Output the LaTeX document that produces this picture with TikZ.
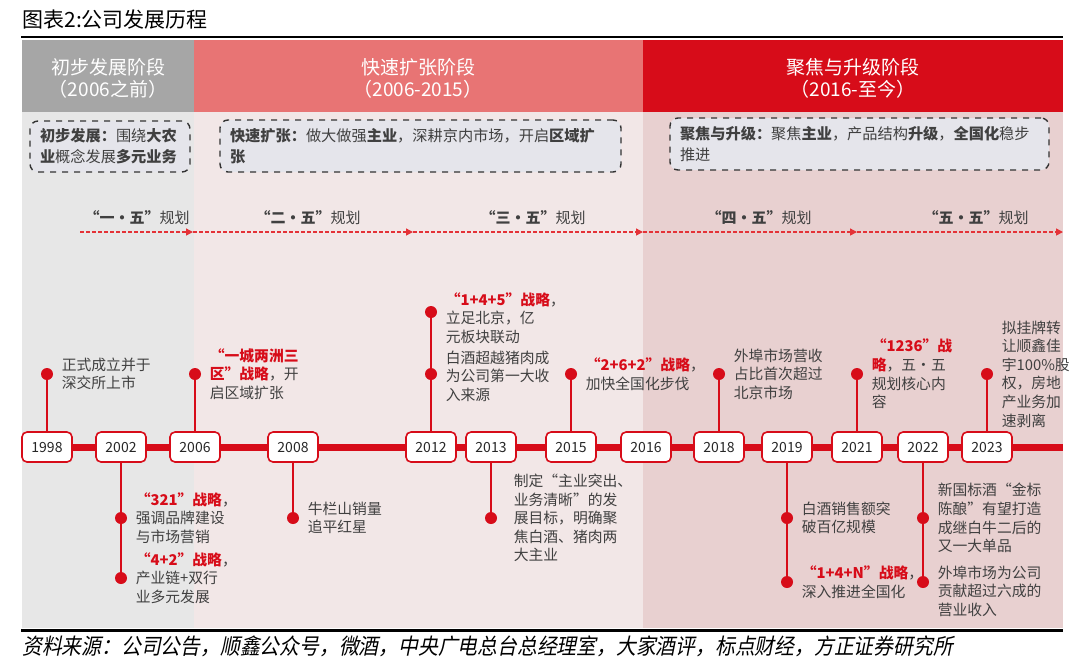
\documentclass[tikz,border=0pt]{standalone}
\usepackage{fontspec}
\setmainfont{Noto Sans CJK SC}
\newfontfamily\srcfont[FakeSlant=0.2,FakeStretch=0.9]{Noto Sans CJK SC}
\usepackage{xcolor}
\usetikzlibrary{arrows.meta,positioning,calc}
\definecolor{headgray}{RGB}{166,166,166}
\definecolor{headsalmon}{RGB}{232,116,116}
\definecolor{headred}{RGB}{215,12,25}
\definecolor{bodygray}{RGB}{231,231,231}
\definecolor{bodypink}{RGB}{242,231,231}
\definecolor{bodyrose}{RGB}{232,208,208}
\definecolor{notefill}{RGB}{229,229,235}
\definecolor{tlred}{RGB}{215,12,25}
\definecolor{planred}{RGB}{228,50,55}
\definecolor{txtgray}{RGB}{64,64,64}
\newcommand{\strat}[1]{\textcolor{tlred}{\textbf{#1}}}

\begin{document}
\begin{tikzpicture}[x=0.5pt, y=-0.5pt, node distance=4pt,
  phasehead/.style={text=white, align=center, font=\fontsize{9.5}{11}\selectfont},
  notebox/.style={draw=black!80, dashed, line width=0.7pt, rounded corners=4pt, fill=notefill, inner xsep=5pt, align=left, text=txtgray, font=\fontsize{7.6}{10.5}\selectfont},
  planlbl/.style={text=txtgray, font=\fontsize{7.5}{9}\selectfont},
  planarrow/.style={draw=planred, line width=0.7pt, dash pattern=on 2pt off 1pt, -{Triangle[length=3.5pt,width=3.5pt]}},
  tlline/.style={draw=tlred, line width=3.5pt},
  yearbox/.style={draw=tlred, fill=white, line width=0.8pt, rounded corners=2.5pt, minimum width=25pt, minimum height=15pt, inner sep=0pt, text=black!85, font=\fontsize{7}{8}\selectfont},
  evdot/.style={circle, fill=tlred, inner sep=0pt, minimum size=6pt},
  stem/.style={draw=tlred, line width=0.8pt},
  evtext/.style={align=left, inner sep=0pt, text=txtgray, font=\fontsize{7.4}{9.3}\selectfont}]
\useasboundingbox (0,0) rectangle (1080,671);

% title and rules
\node[anchor=west, inner sep=0pt, font=\fontsize{10.5}{12}\selectfont] (ttl) at (22,20) {图表2:公司发展历程};
\fill[black] (21,35.5) rectangle (1063,38);
\fill[black] (21,629) rectangle (1063,631.5);
\node[anchor=west, inner sep=0pt, font=\srcfont\fontsize{11}{12}\selectfont] (src) at (22,646) {资料来源：公司公告，顺鑫公众号，微酒，中央广电总台总经理室，大家酒评，标点财经，方正证券研究所};

% phases
\fill[bodygray] (22,40) rectangle (194,628);
\fill[bodypink] (194,40) rectangle (643,628);
\fill[bodyrose] (643,40) rectangle (1063,628);
\fill[headgray] (22,40) rectangle (194,112);
\fill[headsalmon] (194,40) rectangle (643,112);
\fill[headred] (643,40) rectangle (1063,112);
\node[phasehead] (h1) at (108,78) {初步发展阶段\\（2006之前）};
\node[phasehead] (h2) at (418,78) {快速扩张阶段\\（2006-2015）};
\node[phasehead] (h3) at (853,78) {聚焦与升级阶段\\（2016-至今）};

\node[notebox, text width=70pt, minimum height=25.5pt] (n1) at (110,146.5) {\textbf{初步发展：}围绕\textbf{大农}\\\textbf{业}概念发展\textbf{多元业务}};
\node[notebox, text width=190.5pt, minimum height=26pt] (n2) at (420.5,146) {\textbf{快速扩张：}做大做强\textbf{主业}，深耕京内市场，开启\textbf{区域扩}\\\textbf{张}};
\node[notebox, text width=179.5pt, minimum height=26pt] (n3) at (859.5,144) {\textbf{聚焦与升级：}聚焦\textbf{主业}，产品结构\textbf{升级}，\textbf{全国化}稳步\\推进};

% five-year plans
\node[planlbl] (pl1) at (137,218) {\textbf{“一・五”}规划};
\node[planlbl] (pl2) at (308,218) {\textbf{“二・五”}规划};
\node[planlbl] (pl3) at (533,218) {\textbf{“三・五”}规划};
\node[planlbl] (pl4) at (759,218) {\textbf{“四・五”}规划};
\node[planlbl] (pl5) at (976,218) {\textbf{“五・五”}规划};
\coordinate (a0) at (80,232);
\coordinate (a1) at (193,232);
\coordinate (a2) at (413,232);
\coordinate (a3) at (643,232);
\coordinate (a4) at (857,232);
\coordinate (a5) at (1063,232);
\foreach \i/\j in {0/1,1/2,2/3,3/4,4/5}
  \draw[planarrow] (a\i) -- (a\j);

% timeline
\coordinate (tlstart) at (22,447);
\coordinate (tlend) at (1063,447);
\draw[tlline] (tlstart) -- (tlend);
\foreach \yr/\xx in {1998/47,2002/121,2006/195,2008/293,2012/431,2013/491,2015/571,2016/646,2018/719,2019/787,2021/857,2022/923,2023/987}
  \node[yearbox] (y\yr) at (\xx,447) {\yr};

\node[evdot] (d1998) at ($(y1998)+(0,-73)$) {};
\node[evdot] (d2002a) at ($(y2002)+(0,71)$) {};
\node[evdot] (d2002b) at ($(y2002)+(0,131)$) {};
\node[evdot] (d2006) at ($(y2006)+(0,-73)$) {};
\node[evdot] (d2008) at ($(y2008)+(0,71)$) {};
\node[evdot] (d2012a) at ($(y2012)+(0,-135)$) {};
\node[evdot] (d2012b) at ($(y2012)+(0,-73)$) {};
\node[evdot] (d2013) at ($(y2013)+(0,71)$) {};
\node[evdot] (d2015) at ($(y2015)+(0,-73)$) {};
\node[evdot] (d2018) at ($(y2018)+(0,-73)$) {};
\node[evdot] (d2019a) at ($(y2019)+(0,71)$) {};
\node[evdot] (d2019b) at ($(y2019)+(0,135)$) {};
\node[evdot] (d2021) at ($(y2021)+(0,-73)$) {};
\node[evdot] (d2022a) at ($(y2022)+(0,71)$) {};
\node[evdot] (d2022b) at ($(y2022)+(0,135)$) {};
\node[evdot] (d2023) at ($(y2023)+(0,-73)$) {};

\draw[stem] (y1998) -- (d1998);
\draw[stem] (y2002) -- (d2002b);
\draw[stem] (y2006) -- (d2006);
\draw[stem] (y2008) -- (d2008);
\draw[stem] (y2012) -- (d2012a);
\draw[stem] (y2013) -- (d2013);
\draw[stem] (y2015) -- (d2015);
\draw[stem] (y2018) -- (d2018);
\draw[stem] (y2019) -- (d2019b);
\draw[stem] (y2021) -- (d2021);
\draw[stem] (y2022) -- (d2022b);
\draw[stem] (y2023) -- (d2023);

\node[evtext, right=of d1998] (t1998) {正式成立并于\\深交所上市};
\node[evtext, right=of d2002a] (t2002a) {\strat{“321”战略}，\\强调品牌建设\\与市场营销};
\node[evtext, right=of d2002b] (t2002b) {\strat{“4+2”战略}，\\产业链+双行\\业多元发展};
\node[evtext, right=of d2006] (t2006) {\strat{“一城两洲三}\\\strat{区”战略}，开\\启区域扩张};
\node[evtext, right=of d2008] (t2008) {牛栏山销量\\追平红星};
\node[evtext, right=of d2012a, yshift=-3pt] (t2012a) {\strat{“1+4+5”战略}，\\立足北京，亿\\元板块联动};
\node[evtext, right=of d2012b, yshift=-1pt] (t2012b) {白酒超越猪肉成\\为公司第一大收\\入来源};
\node[evtext, right=of d2013, xshift=4pt] (t2013) {制定“主业突出、\\业务清晰”的发\\展目标，明确聚\\焦白酒、猪肉两\\大主业};
\node[evtext, right=of d2015] (t2015) {\strat{“2+6+2”战略}，\\加快全国化步伐};
\node[evtext, right=of d2018] (t2018) {外埠市场营收\\占比首次超过\\北京市场};
\node[evtext, right=of d2019a] (t2019a) {白酒销售额突\\破百亿规模};
\node[evtext, right=of d2019b] (t2019b) {\strat{“1+4+N”战略}，\\深入推进全国化};
\node[evtext, right=of d2021] (t2021) {\strat{“1236”战}\\\strat{略}，五・五\\规划核心内\\容};
\node[evtext, right=of d2022a] (t2022a) {新国标酒“金标\\陈酿”有望打造\\成继白牛二后的\\又一大单品};
\node[evtext, right=of d2022b, yshift=-4.5pt] (t2022b) {外埠市场为公司\\贡献超过六成的\\营业收入};
\node[evtext, right=of d2023] (t2023) {拟挂牌转\\让顺鑫佳\\宇100\%股\\权，房地\\产业务加\\速剥离};
\end{tikzpicture}
\end{document}
